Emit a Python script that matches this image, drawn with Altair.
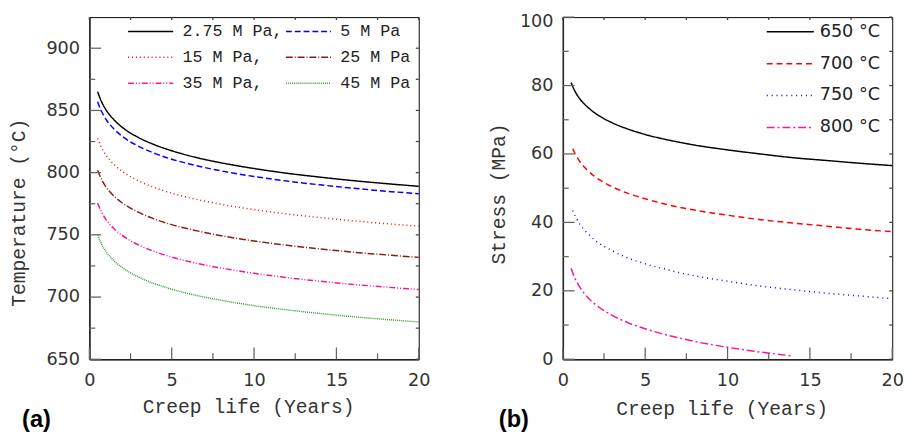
import altair as alt
import pandas as pd

# ---------------- data ----------------
years = [0.5, 0.75, 1, 1.5, 2, 3, 4, 5, 6, 7, 8, 10, 12, 14, 16, 18, 20]

t_275 = [865.0, 856.7, 850.7, 842.4, 836.4, 828.1, 822.2, 817.6, 813.8, 810.6, 807.9, 803.3, 799.5, 796.4, 793.6, 791.2, 789.0]
t_5 = [857.0, 848.9, 843.1, 835.0, 829.2, 821.1, 815.3, 810.8, 807.2, 804.1, 801.4, 796.9, 793.2, 790.2, 787.5, 785.1, 783.0]
t_15 = [827.5, 819.8, 814.3, 806.5, 801.0, 793.3, 787.8, 783.5, 780.0, 777.1, 774.5, 770.3, 766.8, 763.9, 761.3, 759.0, 757.0]
t_25 = [802.0, 794.3, 788.8, 781.1, 775.7, 768.0, 762.5, 758.2, 754.8, 751.9, 749.3, 745.1, 741.6, 738.7, 736.1, 733.9, 731.9]
t_35 = [775.6, 768.0, 762.5, 754.9, 749.5, 741.8, 736.4, 732.1, 728.7, 725.8, 723.3, 719.1, 715.6, 712.7, 710.2, 708.0, 706.0]
t_45 = [750.0, 742.3, 736.8, 729.1, 723.7, 716.0, 710.5, 706.3, 702.8, 699.9, 697.4, 693.1, 689.7, 686.8, 684.2, 682.0, 680.0]

# legend order is column-major (3 rows x 2 columns)
pressure_labels = ["2.75 M Pa,", "15 M Pa,", "35 M Pa,", "5 M Pa", "25 M Pa", "45 M Pa"]
pressure_series = [t_275, t_15, t_35, t_5, t_25, t_45]
pressure_colors = ["#000000", "#ff0000", "#ff1493", "#0000ff", "#8b1a1a", "#2e9e2e"]
pressure_dashes = [[1, 0], [1, 3], [6, 2, 1, 2, 1, 2], [6, 3], [7, 2, 1, 2], [1, 1]]

years_650 = [0.5, 0.75, 1, 1.5, 2, 3, 4, 5, 6, 7, 8, 10, 12, 14, 16, 18, 20]
s_650 = [80.9, 78.2, 76.3, 73.7, 71.8, 69.1, 67.2, 65.7, 64.5, 63.5, 62.6, 61.2, 60.0, 58.9, 58.1, 57.3, 56.6]
years_700 = [0.6, 0.75, 1, 1.5, 2, 3, 4, 5, 6, 7, 8, 10, 12, 14, 16, 18, 20]
s_700 = [61.5, 60.0, 58.0, 55.2, 53.2, 50.4, 48.4, 46.9, 45.6, 44.5, 43.6, 42.1, 40.8, 39.8, 38.9, 38.0, 37.3]
years_750 = [0.6, 0.75, 1, 1.5, 2, 3, 4, 5, 6, 7, 8, 10, 12, 14, 16, 18, 20]
s_750 = [43.5, 41.9, 39.7, 36.8, 34.6, 31.7, 29.5, 27.9, 26.6, 25.4, 24.4, 22.8, 21.4, 20.3, 19.3, 18.5, 17.7]
years_800 = [0.5, 0.75, 1, 1.5, 2, 3, 4, 5, 6, 7, 8, 10, 12, 14]
s_800 = [26.6, 23.5, 21.3, 18.1, 15.9, 12.8, 10.6, 8.9, 7.5, 6.3, 5.2, 3.5, 2.1, 0.95]

temp_labels = ["650 °C", "700 °C", "750 °C", "800 °C"]
temp_colors = ["#000000", "#ff0000", "#0000ff", "#ff1493"]
temp_dashes = [[1, 0], [6, 4], [1, 4], [8, 3, 2, 3]]

x_major = [0, 5, 10, 15, 20]
x_minor = [2.5, 7.5, 12.5, 17.5]
ya_major = [650, 700, 750, 800, 850, 900]
ya_minor = [675, 725, 775, 825, 875]
yb_major = [0, 20, 40, 60, 80, 100]
yb_minor = [10, 30, 50, 70, 90]

# ---------------- tables ----------------
rows_a = []
for lab, vals in zip(pressure_labels, pressure_series):
    for x, y in zip(years, vals):
        rows_a.append({"x": x, "y": y, "series": lab})
df_a = pd.DataFrame(rows_a)

rows_b = []
for lab, xs, vals in zip(temp_labels, [years_650, years_700, years_750, years_800],
                         [s_650, s_700, s_750, s_800]):
    for x, y in zip(xs, vals):
        rows_b.append({"x": x, "y": y, "series": lab})
df_b = pd.DataFrame(rows_b)

W, H = 336, 349
MONO = "Liberation Mono"
SANS = "DejaVu Sans"


def panel(df, labels, colors, dashes, ydom, ymaj, ymin, ytitle, ytitle_x, ytitle_y,
          xtitle_x, xtitle_y, legend, tag, tag_x, top_value):
    xs = alt.Scale(domain=[0, 20], nice=False, zero=False, padding=0)
    ys = alt.Scale(domain=ydom, nice=False, zero=False, padding=0)
    xaxis = alt.Axis(values=x_major, title="Creep life (Years)", titleX=xtitle_x,
                     titleY=xtitle_y, titleBaseline="middle", labelPadding=13,
                     labelFlush=False)
    yaxis = alt.Axis(values=ymaj, title=ytitle, titleX=ytitle_x, titleY=ytitle_y,
                     titleBaseline="middle", titleAngle=270, labelPadding=10,
                     labelFlush=False,
                     labelOffset={"condition": {"test": f"datum.value == {top_value}",
                                                "value": 5}, "value": 0})
    lines = alt.Chart(df).mark_line(strokeWidth=1.5, interpolate="monotone").encode(
        x=alt.X("x:Q", scale=xs, axis=xaxis),
        y=alt.Y("y:Q", scale=ys, axis=yaxis),
        color=alt.Color("series:N", scale=alt.Scale(domain=labels, range=colors),
                        sort=labels, legend=legend),
        strokeDash=alt.StrokeDash("series:N", scale=alt.Scale(domain=labels, range=dashes),
                                  sort=labels, legend=legend),
    )

    def xrule(vals, top, length, color):
        d = pd.DataFrame({"x": vals})
        if top:
            y1, y2 = 0, length
        else:
            y1, y2 = H, H - length
        return alt.Chart(d).mark_rule(color=color, strokeWidth=1.3).encode(
            x=alt.X("x:Q", scale=xs, axis=xaxis), y=alt.value(y1), y2=alt.value(y2))

    def yrule(vals, right, length, color):
        d = pd.DataFrame({"y": vals})
        if right:
            x1, x2 = W, W - length
        else:
            x1, x2 = 0, length
        return alt.Chart(d).mark_rule(color=color, strokeWidth=1.3).encode(
            y=alt.Y("y:Q", scale=ys, axis=yaxis), x=alt.value(x1), x2=alt.value(x2))

    ticks = [
        xrule(x_major, False, 12, "#666"),
        xrule(x_minor, False, 6, "#666"),
        xrule(x_major + x_minor, True, 3, "#444"),
        yrule(ymaj, False, 12, "#666"),
        yrule(ymin, False, 6, "#666"),
        yrule(ymaj + ymin, True, 3, "#444"),
    ]
    label = alt.Chart(pd.DataFrame({"t": [tag]})).mark_text(
        font="Liberation Sans", fontSize=24, fontWeight="bold", color="#000",
        align="center", baseline="middle").encode(
        x=alt.value(tag_x), y=alt.value(H + 62), text="t:N")
    return alt.layer(lines, *ticks, label).properties(width=W, height=H)


legend_a = alt.Legend(orient="none", legendX=50, legendY=2, columns=2, columnPadding=-1,
                      rowPadding=5.5, symbolType="M-2,0H2", symbolSize=529,
                      symbolStrokeWidth=1.5, labelFont=MONO, labelFontSize=17,
                      labelOffset=20, labelColor="#222", title=None, padding=0)
legend_b = alt.Legend(orient="none", legendX=219, legendY=2, rowPadding=10.5,
                      symbolType="M-2,0H2", symbolSize=576, symbolStrokeWidth=1.5,
                      labelFont=SANS, labelFontSize=18, labelOffset=17,
                      labelColor="#222", title=None, padding=0)

pa = panel(df_a, pressure_labels, pressure_colors, pressure_dashes, [650, 925],
           ya_major, ya_minor, "Temperature (°C)", -72, 199, 162, 48,
           legend_a, "(a)", -54, 925)
pb = panel(df_b, temp_labels, temp_colors, temp_dashes, [0, 100],
           yb_major, yb_minor, "Stress (MPa)", -66, 180, 162, 50,
           legend_b, "(b)", -50, 100)

chart = alt.hconcat(pa, pb, spacing=58).resolve_scale(
    color="independent", strokeDash="independent").resolve_legend(
    color="independent", strokeDash="independent").properties(
    padding={"left": 0, "top": 0, "right": 0, "bottom": 0}
).configure_view(stroke="#000", strokeWidth=1).configure_axis(
    grid=False, ticks=False, labelFont=SANS, labelFontSize=18, labelColor="#333",
    titleFont=MONO, titleFontSize=20, titleFontWeight="normal", titleColor="#333",
    domainColor="#222", domainWidth=1.5)

chart.save("out.html", embed_options={"renderer": "svg", "actions": False})
